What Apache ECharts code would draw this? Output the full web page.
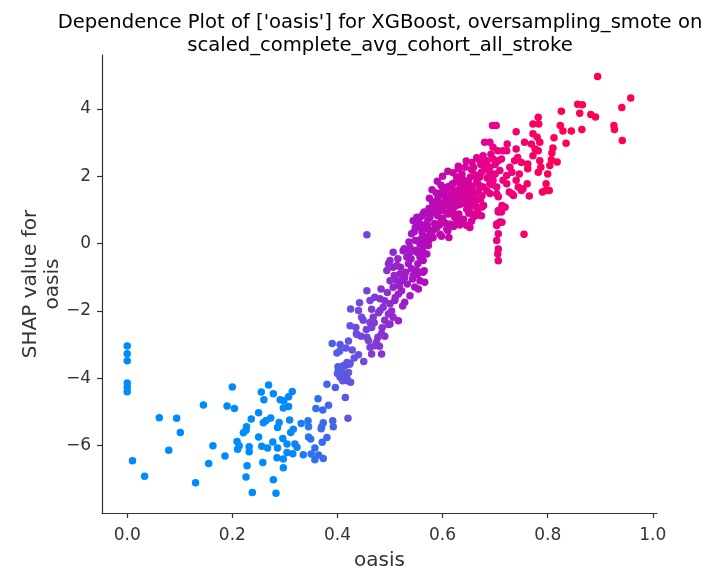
<!DOCTYPE html>
<html>
<head>
<meta charset="utf-8">
<script src="https://cdn.jsdelivr.net/npm/echarts@6/dist/echarts.min.js"></script>
<style>html,body{margin:0;padding:0;background:#fff}#chart{width:708px;height:571px}</style>
</head>
<body>
<div id="chart"></div>
<script>
// [oasis value, SHAP value] pairs
const lowPoints = [
[0,-3.04],[0,-3.27],[0,-3.48],[0,-4.14],[0,-4.27],[0,-4.40],[0.01,-6.45],[0.033,-6.91],[0.061,-5.17],[0.094,-5.19],
[0.101,-5.61],[0.079,-6.14],[0.145,-4.79],[0.13,-7.10],[0.163,-6.0],[0.155,-6.53],[0.186,-6.31],[0.19,-4.82],[0.204,-4.90],[0.2,-4.26],
[0.209,-5.88],[0.21,-6.11],[0.213,-6.0],[0.228,-6.60],[0.226,-6.93],[0.238,-7.39],[0.227,-5.44],[0.226,-5.54],[0.221,-5.62],[0.236,-5.21],
[0.232,-6.03],[0.232,-6.18],[0.25,-5.02],[0.255,-4.41],[0.26,-4.64],[0.269,-4.20],[0.278,-4.46],[0.25,-5.74],[0.256,-6.02],[0.258,-6.50],
[0.259,-5.32],[0.264,-5.25],[0.273,-5.18],[0.267,-6.07],[0.278,-7.01],[0.283,-7.41],[0.277,-5.89],[0.286,-5.46],[0.289,-5.31],[0.291,-4.64],
[0.298,-4.67],[0.297,-4.88],[0.307,-4.84],[0.307,-4.55],[0.314,-4.39],[0.286,-6.07],[0.285,-6.36],[0.297,-6.40],[0.297,-6.66],[0.296,-5.79],
[0.304,-5.95],[0.304,-6.20],[0.309,-5.24],[0.311,-5.61],[0.316,-5.51],[0.319,-5.95],[0.323,-6.05],[0.315,-6.24],[0.331,-5.34],[0.344,-5.26],
[0.345,-5.44],[0.335,-6.27],[0.345,-5.74],[0.349,-5.80],[0.357,-6.07],[0.35,-6.25],[0.357,-6.42],[0.364,-6.28],[0.373,-6.38],[0.363,-4.61],
[0.359,-4.90],[0.372,-4.94],[0.383,-4.80],[0.37,-5.44],[0.373,-5.32],[0.369,-5.5],[0.38,-5.76],[0.371,-5.90],[0.391,-5.26],[0.392,-5.44],
[0.38,-4.18],[0.396,-4.27],[0.39,-2.97],[0.405,-3.0],[0.399,-3.25],[0.404,-3.2],[0.421,-2.89],[0.416,-3.10],[0.428,-3.16],[0.437,-2.70],
[0.401,-3.66],[0.40,-3.86],[0.405,-3.97],[0.414,-3.63],[0.423,-3.58],[0.421,-3.83],[0.41,-4.07],[0.419,-4.07],[0.415,-4.57],[0.42,-5.19],
[0.408,-3.76],[0.411,-3.90]
];
const midPoints = [
[0.411,-3.63],[0.418,-3.53],[0.424,-3.55],[0.402,-3.77],[0.41,-3.92],[0.418,-4.0],[0.425,-4.12],
[0.424,-2.44],[0.425,-1.94],[0.442,-1.76],[0.44,-1.99],[0.435,-2.49],[0.436,-2.68],[0.446,-2.19],[0.449,-2.28],[0.456,-1.40],
[0.456,0.26],[0.462,-1.69],[0.471,-1.59],[0.481,-1.64],[0.483,-1.35],[0.456,-2.78],[0.459,-2.88],[0.465,-3.28],[0.462,-3.08],
[0.471,-3.03],[0.474,-2.93],[0.477,-2.78],[0.484,-3.28],[0.484,-2.68],[0.462,-2.34],[0.465,-2.49],[0.468,-2.19],[0.481,-1.99],
[0.487,-1.89],[0.49,-2.28],[0.497,-2.09],[0.5,-2.39],[0.506,-2.19],[0.516,-2.29],[0.5,-1.79],[0.509,-1.69],[0.516,-1.50],
[0.522,-1.40],[0.538,-1.55],[0.528,-1.74],[0.506,-1.30],[0.513,-1.10],[0.522,-1.10],[0.528,-1.00],[0.519,-0.90],[0.494,-0.80],
[0.497,-0.60],[0.5,-0.50],[0.506,-0.70],[0.513,-0.65],[0.506,-0.26],[0.525,-0.21],[0.532,-0.40],[0.535,-0.60],[0.541,-0.75],
[0.544,-0.95],[0.551,-0.80],[0.557,-1.10],[0.566,-1.15],[0.554,-1.35],[0.547,-1.29],[0.563,-0.85],[0.538,-0.11],[0.548,0.09],
[0.541,0.29],[0.538,-0.26],[0.551,-0.26],[0.557,-0.40],[0.563,-0.50],[0.570,-0.31],[0.573,-0.06],[0.567,0.04],[0.557,-0.01],
[0.544,0.68],[0.551,0.78],[0.548,0.48],[0.557,0.48],[0.563,0.88],[0.576,0.78],[0.57,0.58],[0.576,0.38],[0.582,0.18],
[0.586,0.58],[0.589,0.88],[0.582,1.18],[0.592,1.23],[0.589,0.48],[0.595,0.28],[0.598,0.68],[0.601,0.98],[0.605,1.28],
[0.601,1.67],[0.611,0.88],[0.614,0.58],[0.608,0.43],[0.620,1.03],[0.623,0.78],[0.617,1.48],[0.627,1.28],[0.633,1.67],
[0.640,1.48],[0.646,1.18],[0.652,1.43],[0.627,0.68],[0.636,0.68],[0.652,0.48],[0.659,0.88],[0.665,1.08],[0.674,0.83],
[0.678,1.13],[0.684,1.58],[0.690,1.78],[0.703,1.48],[0.706,0.98],[0.713,1.13],[0.719,1.08],[0.703,0.58],[0.713,0.63],
[0.732,1.48],[0.753,1.63],[0.722,1.78]
];
const rampExtra = [
[0.47,-2.35],[0.478,-2.05],[0.485,-2.5],[0.49,-1.7],[0.495,-1.45],[0.5,-1.1],[0.503,-2.0],[0.508,-0.95],[0.51,-1.6],
[0.515,-0.45],[0.518,-1.25],[0.52,-0.7],[0.524,-1.85],[0.527,-0.15],[0.53,-0.85],[0.533,-1.2],[0.536,0.05],[0.54,-0.45],
[0.543,-1.05],[0.546,0.35],[0.55,-0.2],[0.553,-0.6],[0.556,0.6],[0.56,0.15],[0.562,-0.2],[0.568,0.45],[0.571,0.2],
[0.575,0.85],[0.48,-3.05],[0.49,-2.75],[0.497,-2.4],[0.455,-2.55],[0.465,-1.95],[0.445,-2.75],[0.44,-3.3],[0.45,-3.5],[0.432,-3.4]
];
const coreExtra = [
[0.565,0.55],[0.572,0.72],[0.578,0.95],[0.583,0.41],[0.587,1.12],[0.591,0.83],[0.595,1.45],[0.598,0.22],[0.602,1.18],
[0.604,0.62],[0.607,1.62],[0.61,0.38],[0.613,1.31],[0.616,0.95],[0.619,1.78],[0.621,0.51],[0.625,1.12],[0.628,1.56],
[0.631,0.88],[0.634,1.95],[0.637,1.28],[0.64,0.72],[0.643,1.64],[0.646,1.02],[0.649,1.85],[0.652,1.21],[0.655,0.66],
[0.658,1.48],[0.661,2.05],[0.664,1.33],[0.667,0.98],[0.671,1.72],[0.675,1.42],[0.68,2.2],[0.585,0.6],[0.593,1.02],
[0.6,0.75],[0.606,1.42],[0.612,0.18],[0.618,1.2],[0.623,0.85],[0.629,1.38],[0.633,0.55],[0.639,1.9],[0.644,1.35],
[0.65,0.9],[0.657,1.7],[0.662,1.15],[0.668,1.55],[0.673,2.35],[0.685,1.95],[0.69,2.1],[0.695,1.75],[0.7,2.35],
[0.62,2.1],[0.63,2.3],[0.645,2.45],[0.575,1.35],[0.58,1.6],[0.59,1.85],[0.6,2.0],
[0.597,1.1],[0.603,1.5],[0.609,1.25],[0.612,1.7],[0.615,1.05],[0.622,1.4],[0.626,1.85],[0.632,1.15],[0.636,1.55],
[0.641,1.2],[0.647,1.75],[0.651,1.05],[0.654,1.6],[0.66,1.35],[0.666,1.9],[0.672,1.3],[0.586,0.95],[0.594,0.55],
[0.579,0.25],[0.574,0.1],[0.588,1.5],[0.61,2.15],[0.655,2.2],[0.665,2.55],[0.683,2.4],[0.692,2.65]
];
const highPoints = [
[0.895,4.96],[0.958,4.32],[0.941,4.04],[0.926,3.51],[0.927,3.39],[0.942,3.06],[0.857,4.14],[0.866,4.12],[0.861,3.87],
[0.882,3.83],[0.891,3.76],[0.826,3.93],[0.824,3.51],[0.829,3.34],[0.845,3.34],[0.865,3.39],[0.835,2.98],[0.812,3.14],
[0.81,2.84],[0.808,2.69],[0.807,2.49],[0.818,2.42],[0.804,2.32],[0.800,2.07],[0.797,1.78],[0.796,1.58],[0.803,1.58],
[0.79,1.53],[0.782,3.75],[0.772,3.55],[0.783,3.55],[0.78,3.16],[0.785,3.01],[0.772,3.26],[0.769,2.96],[0.776,2.81],
[0.782,2.76],[0.772,2.61],[0.756,3.01],[0.740,3.32],[0.740,2.81],[0.743,2.56],[0.737,2.46],[0.75,2.41],[0.762,2.36],
[0.785,2.46],[0.787,2.27],[0.782,2.12],[0.762,2.22],[0.746,2.07],[0.74,1.88],[0.761,1.78],[0.744,1.68],[0.75,1.58],
[0.765,1.41],[0.727,1.53],[0.735,1.43],[0.723,2.96],[0.722,2.76],[0.715,2.76],[0.712,2.51],[0.706,2.46],[0.728,2.27],
[0.732,2.12],[0.722,2.02],[0.715,1.88],[0.709,2.17],[0.7,2.07],[0.69,2.27],[0.696,2.51],[0.705,2.76],[0.696,2.86],
[0.69,3.01],[0.68,3.01],[0.695,3.51],[0.702,3.51],[0.677,2.61],[0.671,2.46],[0.684,2.46],[0.68,2.27],[0.674,2.12],
[0.671,1.98],[0.687,1.98],[0.696,1.88],[0.703,1.68],[0.706,1.39],[0.69,1.49],[0.677,1.68],[0.665,1.83],[0.656,1.68],
[0.653,1.98],[0.659,2.27],[0.656,2.41],[0.643,2.27],[0.630,2.22],[0.637,2.07],[0.627,1.98],[0.618,1.68],[0.624,1.49],
[0.637,1.78],[0.646,1.58],[0.649,1.39],[0.659,1.19],[0.675,1.09],[0.668,0.84],[0.659,0.79],[0.716,1.09],[0.712,0.94],
[0.706,0.94],[0.709,0.64],[0.703,0.54],[0.706,0.29],[0.703,0.09],[0.706,-0.16],[0.705,-0.31],[0.706,-0.51],[0.755,0.28],
[0.631,0.74],[0.646,0.54],[0.62,0.54],[0.609,0.89],[0.606,1.14],[0.6,1.58],[0.597,1.73],[0.591,1.34],[0.581,1.24],
[0.574,1.04],[0.565,0.94],[0.558,0.79],[0.571,0.54],[0.561,0.34],[0.555,0.09],[0.565,-0.06],[0.558,-0.36],[0.565,-0.81],[0.552,-0.91]
];
const oasisTicks = [0, 0.2, 0.4, 0.6, 0.8, 1.0];
const shapTicks = [-6, -4, -2, 0, 2, 4];

const points = lowPoints.concat(midPoints, rampExtra, coreExtra, highPoints);
const FONT = 'DejaVu Sans';
const chart = echarts.init(document.getElementById('chart'), null, {renderer: 'canvas'});
chart.setOption({
  animation: false,
  textStyle: {fontFamily: FONT},
  title: {
    text: "Dependence Plot of ['oasis'] for XGBoost, oversampling_smote on\nscaled_complete_avg_cohort_all_stroke",
    left: 375, top: 6, textAlign: 'center',
    textStyle: {fontFamily: FONT, fontSize: 19.6, fontWeight: 'normal', color: '#000', lineHeight: 23}
  },
  grid: {left: 102, right: 51, top: 55, bottom: 58, containLabel: false, outerBoundsMode: 'none'},
  xAxis: {
    type: 'value', min: -0.048, max: 1.008,
    name: 'oasis', nameLocation: 'middle', nameGap: 38, nameMoveOverlap: false,
    nameTextStyle: {fontFamily: FONT, fontSize: 20, color: '#333'},
    axisLine: {onZero: false, lineStyle: {color: '#333', width: 1.2}},
    axisTick: {customValues: oasisTicks, length: 5, lineStyle: {color: '#333', width: 1.2}},
    axisLabel: {customValues: oasisTicks, formatter: v => v.toFixed(1), fontFamily: FONT, fontSize: 17, color: '#333', margin: 14},
    splitLine: {show: false}
  },
  yAxis: {
    type: 'value', min: -8.0, max: 5.6,
    name: 'SHAP value for\noasis', nameLocation: 'middle', nameGap: 38, nameMoveOverlap: false,
    nameTextStyle: {fontFamily: FONT, fontSize: 20, color: '#333', lineHeight: 22},
    axisLine: {show: true, onZero: false, lineStyle: {color: '#333', width: 1.2}},
    axisTick: {show: true, customValues: shapTicks, length: 5, lineStyle: {color: '#333', width: 1.2}},
    axisLabel: {customValues: shapTicks, formatter: v => String(v).replace('-', '\u2212'), fontFamily: FONT, fontSize: 17, color: '#333', margin: 11},
    splitLine: {show: false}
  },
  visualMap: {
    show: false, type: 'continuous', dimension: 0, min: 0.30, max: 0.82,
    inRange: {color: ['#008bfb', '#6a50e0', '#b00cc0', '#ea0088', '#ff0052']}
  },
  series: [{
    type: 'scatter', symbol: 'circle', symbolSize: 7.5, data: points,
    itemStyle: {opacity: 1}
  }]
});
</script>
</body>
</html>
